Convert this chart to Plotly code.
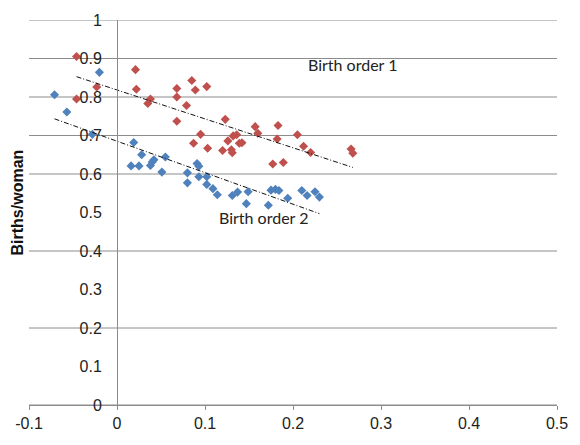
import numpy as np
import plotly.graph_objects as go

# Birth order 1 (red) and birth order 2 (blue): x value vs births per woman
order1_x = [-0.046, -0.023, -0.046, 0.021, 0.022, 0.038, 0.035, 0.068, 0.068, 0.085,
            0.089, 0.102, 0.079, 0.068, 0.095, 0.087, 0.103, 0.123, 0.157, 0.183,
            0.160, 0.132, 0.136, 0.182, 0.205, 0.126, 0.139, 0.142, 0.120, 0.130,
            0.131, 0.212, 0.220, 0.177, 0.189, 0.266, 0.268]
order1_y = [0.905, 0.826, 0.795, 0.871, 0.820, 0.795, 0.783, 0.822, 0.800, 0.843,
            0.818, 0.827, 0.778, 0.737, 0.703, 0.680, 0.667, 0.742, 0.723, 0.726,
            0.706, 0.699, 0.702, 0.691, 0.702, 0.686, 0.680, 0.681, 0.661, 0.663,
            0.655, 0.672, 0.656, 0.626, 0.630, 0.665, 0.654]

order2_x = [-0.071, -0.057, -0.020, -0.028, 0.019, 0.016, 0.025, 0.028, 0.038, 0.040,
            0.042, 0.051, 0.055, 0.080, 0.080, 0.091, 0.093, 0.093, 0.102, 0.102,
            0.109, 0.114, 0.131, 0.137, 0.149, 0.147, 0.172, 0.175, 0.180, 0.184,
            0.194, 0.210, 0.216, 0.225, 0.230]
order2_y = [0.806, 0.761, 0.864, 0.703, 0.682, 0.621, 0.621, 0.650, 0.622, 0.631,
            0.637, 0.605, 0.644, 0.603, 0.577, 0.627, 0.620, 0.593, 0.593, 0.573,
            0.562, 0.546, 0.544, 0.553, 0.554, 0.523, 0.519, 0.558, 0.560, 0.557,
            0.537, 0.557, 0.544, 0.554, 0.540]

x_ticks = [-0.1, 0, 0.1, 0.2, 0.3, 0.4, 0.5]
x_tick_text = ["-0.1", "0", "0.1", "0.2", "0.3", "0.4", "0.5"]
y_ticks = [0, 0.1, 0.2, 0.3, 0.4, 0.5, 0.6, 0.7, 0.8, 0.9, 1]
y_tick_text = ["0", "0.1", "0.2", "0.3", "0.4", "0.5", "0.6", "0.7", "0.8", "0.9", "1"]
grid_levels = [0, 0.2, 0.4, 0.6, 0.7, 0.8, 0.9, 1]

RED = "#C0504D"
BLUE = "#4F81BD"
GRID = "#8C8C8C"
X_RANGE = [-0.1, 0.5]


def trend(xs, ys):
    slope, icpt = np.polyfit(xs, ys, 1)
    xx = np.array([min(xs), max(xs)])
    return xx, slope * xx + icpt


fig = go.Figure()

for xs, ys, col in [(order1_x, order1_y, RED), (order2_x, order2_y, BLUE)]:
    fig.add_trace(go.Scatter(
        x=xs, y=ys, mode="markers",
        marker=dict(symbol="diamond", size=7, color=col, line=dict(width=0)),
        showlegend=False, hoverinfo="skip"))
    tx, ty = trend(xs, ys)
    fig.add_trace(go.Scatter(
        x=tx, y=ty, mode="lines",
        line=dict(color="#111111", width=1, dash="5px,2px,1px,2px"),
        showlegend=False, hoverinfo="skip"))

# horizontal gridlines
for g in grid_levels:
    fig.add_shape(type="line", xref="paper", yref="y", x0=0, x1=1, y0=g, y1=g,
                  line=dict(color=GRID, width=1), layer="below")

fig.add_annotation(text="Birth order 1", x=0.215, y=0.884, xref="x", yref="y",
                   xanchor="left", yanchor="middle", showarrow=False,
                   font=dict(family="Lato", size=16, color="#222222"))
fig.add_annotation(text="Birth order 2", x=0.114, y=0.486, xref="x", yref="y",
                   xanchor="left", yanchor="middle", showarrow=False,
                   font=dict(family="Lato", size=16, color="#222222"))
fig.add_annotation(text="<b>Births/woman</b>", textangle=-90, x=-0.022, y=0.527,
                   xref="paper", yref="paper", xanchor="center", yanchor="middle",
                   showarrow=False,
                   font=dict(family="Liberation Sans, Arial", size=16, color="#111111"))

tick_font = dict(family="Liberation Sans, Arial", size=16, color="#222222")

fig.update_layout(
    width=580, height=445,
    margin=dict(l=29, r=14, t=14, b=40),
    paper_bgcolor="white", plot_bgcolor="white",
    xaxis=dict(range=X_RANGE, tickvals=x_ticks, ticktext=x_tick_text,
               showgrid=False, zeroline=False, showline=True, linecolor=GRID,
               linewidth=1, ticks="outside", ticklen=4, tickcolor=GRID,
               tickfont=tick_font),
    yaxis=dict(range=[0, 1], tickvals=y_ticks, ticktext=y_tick_text,
               showgrid=False, zeroline=False, showline=True, linecolor=GRID,
               linewidth=1, ticks="", anchor="free",
               position=(0 - X_RANGE[0]) / (X_RANGE[1] - X_RANGE[0]),
               ticklabelstandoff=12, tickfont=tick_font),
)

fig.write_html("out.html")
